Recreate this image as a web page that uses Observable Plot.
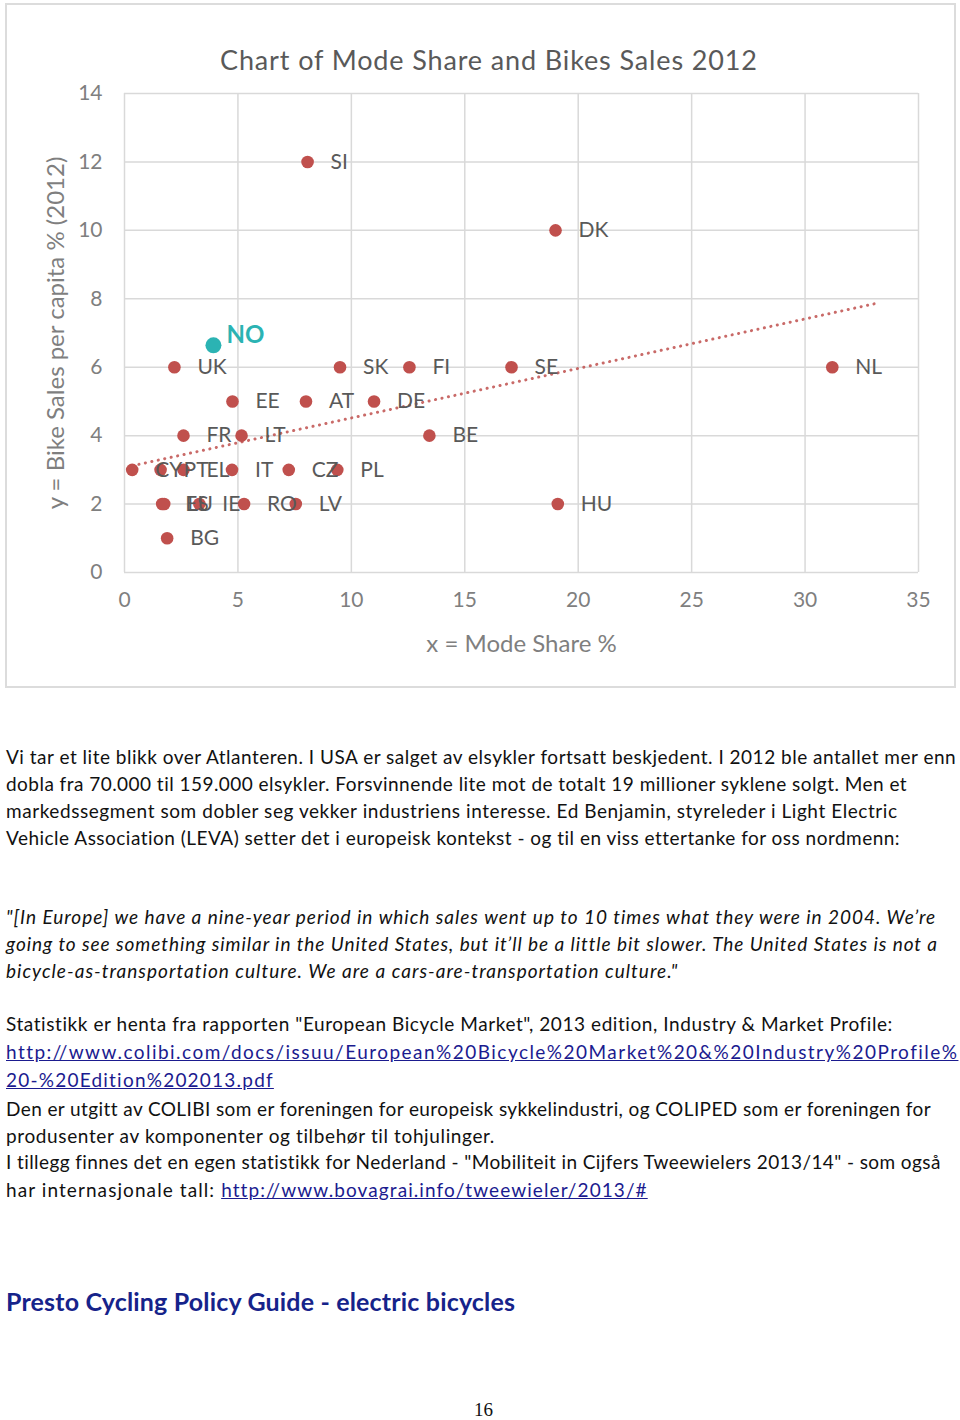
<!DOCTYPE html>
<html>
<head>
<meta charset="utf-8">
<script src="https://cdn.jsdelivr.net/npm/d3@7"></script>
<script src="https://cdn.jsdelivr.net/npm/@observablehq/plot@0.6"></script>
<style>
  html, body { margin:0; padding:0; background:#fff; }
  body { width:960px; height:1420px; position:relative; overflow:hidden; font-family:Lato, sans-serif; }
  #frame { position:absolute; left:5px; top:3px; width:951px; height:685px; border:2px solid #dcdcdc; box-sizing:border-box; }
  #chart { position:absolute; left:0; top:40px; }
  #title { position:absolute; top:42px; left:220px; white-space:nowrap; font-family:Lato, sans-serif; font-size:27px; color:#595959; line-height:36px; }
  .ln { position:absolute; left:6px; white-space:nowrap; font-size:19px; line-height:26px; color:#111; font-family:Lato, sans-serif; }
  .it { font-style:italic; }
  a { color:#1b1b8f; text-decoration:underline; }
  #heading { position:absolute; left:6px; top:1284px; white-space:nowrap; font-family:Lato, sans-serif; font-weight:bold; font-size:25px; line-height:34px; color:#16238a; }
  #page { position:absolute; left:474px; top:1398px; font-family:"Liberation Serif", serif; font-size:19px; line-height:24px; color:#111; }
</style>
</head>
<body>
<div id="frame"></div>
<div id="chart"></div>
<div id="title" data-w="537">Chart of Mode Share and Bikes Sales 2012</div>

<div class="ln" style="top:744px" data-w="949">Vi tar et lite blikk over Atlanteren. I USA er salget av elsykler fortsatt beskjedent. I 2012 ble antallet mer enn</div>
<div class="ln" style="top:771px" data-w="901">dobla fra 70.000 til 159.000 elsykler. Forsvinnende lite mot de totalt 19 millioner syklene solgt. Men et</div>
<div class="ln" style="top:798px" data-w="891">markedssegment som dobler seg vekker industriens interesse. Ed Benjamin, styreleder i Light Electric</div>
<div class="ln" style="top:825px" data-w="893">Vehicle Association (LEVA) setter det i europeisk kontekst - og til en viss ettertanke for oss nordmenn:</div>

<div class="ln it" style="top:904px" data-w="929">"[In Europe] we have a nine-year period in which sales went up to 10 times what they were in 2004. We’re</div>
<div class="ln it" style="top:931px" data-w="930">going to see something similar in the United States, but it’ll be a little bit slower. The United States is not a</div>
<div class="ln it" style="top:958px" data-w="671">bicycle-as-transportation culture. We are a cars-are-transportation culture."</div>

<div class="ln" style="top:1011px" data-w="887">Statistikk er henta fra rapporten "European Bicycle Market", 2013 edition, Industry &amp; Market Profile:</div>
<div class="ln" style="top:1039px" data-w="950"><a>http://www.colibi.com/docs/issuu/European%20Bicycle%20Market%20&amp;%20Industry%20Profile%</a></div>
<div class="ln" style="top:1067px" data-w="267"><a>20-%20Edition%202013.pdf</a></div>
<div class="ln" style="top:1096px" data-w="924">Den er utgitt av COLIBI som er foreningen for europeisk sykkelindustri, og COLIPED som er foreningen for</div>
<div class="ln" style="top:1123px" data-w="489">produsenter av komponenter og tilbehør til tohjulinger.</div>
<div class="ln" style="top:1149px" data-w="935">I tillegg finnes det en egen statistikk for Nederland - "Mobiliteit in Cijfers Tweewielers 2013/14" - som også</div>
<div class="ln" style="top:1177px" data-w="640">har internasjonale tall: <a>http://www.bovagrai.info/tweewieler/2013/#</a></div>

<div id="heading" data-w="509">Presto Cycling Policy Guide - electric bicycles</div>
<div id="page">16</div>

<script>
// ---- data ----
const countries = ["SI","DK","UK","SK","FI","SE","NL","EE","AT","DE","FR","LT","BE","CY","PT","EL","IT","CZ","PL","ES","LU","IE","RO","LV","BG","HU"];
const modeShare = [8.07,19.0,2.2,9.5,12.56,17.06,31.2,4.76,8.0,11.0,2.6,5.16,13.44,0.34,1.59,2.6,4.74,7.24,9.38,1.66,1.75,3.3,5.27,7.55,1.88,19.1];
const bikeSales = [12,10,6,6,6,6,6,5,5,5,4,4,4,3,3,3,3,3,3,2,2,2,2,2,1,2];
const highlightCountry = ["NO"];
const highlightShare = [3.92];
const highlightSales = [6.64];
const trendX = [0.35, 33.1];
const trendY = [3.12, 7.86];
const xTicks = [0,5,10,15,20,25,30,35];
const yTicks = [0,2,4,6,8,10,12,14];

const points = countries.map((c,i) => ({country:c, x:modeShare[i], y:bikeSales[i]}));
const hl = highlightCountry.map((c,i) => ({country:c, x:highlightShare[i], y:highlightSales[i]}));
const trend = trendX.map((x,i) => ({x, y:trendY[i]}));

const red = "#c0504d";
const teal = "#2bb3b3";

const chart = Plot.plot({
  width: 960,
  height: 620,
  marginLeft: 124,
  marginRight: 42,
  marginTop: 53,
  marginBottom: 88,
  style: {fontFamily: "Lato, sans-serif", fontSize: "21px", color: "#7f7f7f", background: "transparent"},
  x: {domain: [0,35]},
  y: {domain: [0,14]},
  marks: [
    Plot.gridX(xTicks, {stroke: "#d9d9d9", strokeOpacity: 1, strokeWidth: 1.5}),
    Plot.gridY(yTicks, {stroke: "#d9d9d9", strokeOpacity: 1, strokeWidth: 1.5}),
    Plot.axisX(xTicks, {tickSize: 0, tickPadding: 20, fontSize: 21, fill: "#7f7f7f", label: null}),
    Plot.axisY(yTicks, {tickSize: 0, tickPadding: 22, fontSize: 21, fill: "#7f7f7f", label: null}),
    Plot.axisX([], {fontSize: 24, fill: "#7f7f7f",
      label: "x = Mode Share %", labelArrow: false, labelAnchor: "center", labelOffset: 79}),
    Plot.axisY([], {fontSize: 24, fill: "#7f7f7f",
      label: "y = Bike Sales per capita % (2012)", labelArrow: false, labelAnchor: "center", labelOffset: 78}),
    Plot.dot(points, {x: "x", y: "y", r: 6.3, fill: red}),
    Plot.line(trend, {x: "x", y: "y", stroke: red, strokeWidth: 3, strokeDasharray: "0.1,6.5", strokeLinecap: "round", strokeOpacity: 0.85}),
    Plot.text(points, {x: "x", y: "y", text: "country", dx: 23, textAnchor: "start", fill: "#595959", fontSize: 21}),
    Plot.dot(hl, {x: "x", y: "y", r: 8, fill: teal}),
    Plot.text(hl, {x: "x", y: "y", text: "country", dx: 13, dy: -10, textAnchor: "start", fill: teal, fontSize: 24, fontWeight: "bold"})
  ]
});
document.getElementById("chart").appendChild(chart);

// fit text lines to measured widths of the reference via letter-spacing
document.querySelectorAll("[data-w]").forEach(el => {
  const target = +el.dataset.w;
  const w = el.getBoundingClientRect().width;
  const n = el.textContent.length;
  if (n > 1) el.style.letterSpacing = ((target - w) / (n - 1)) + "px";
});
</script>
</body>
</html>
